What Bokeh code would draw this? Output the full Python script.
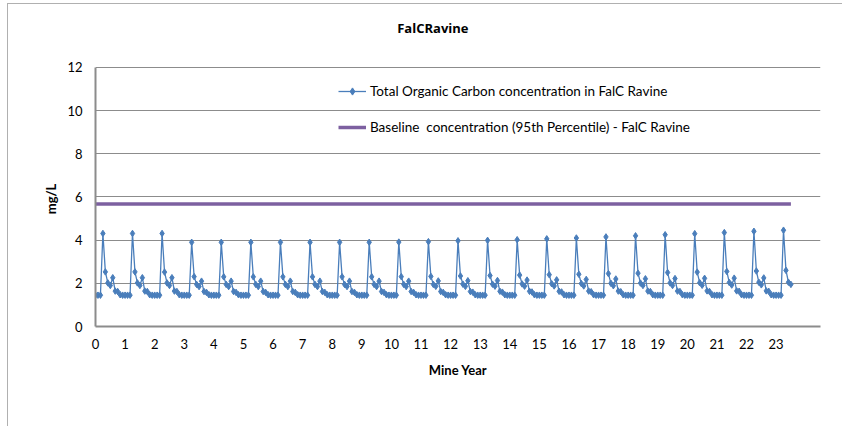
from bokeh.plotting import figure
from bokeh.models import Range1d, FixedTicker, Legend, LegendItem
from bokeh.core.properties import value
from bokeh.embed import file_html
from bokeh.resources import INLINE

# ---- data (monthly readings, 12 per mine year) ----
toc_year_00 = [1.45, 1.45, 1.45, 4.31, 2.53, 2.02, 1.90, 2.26, 1.64, 1.62, 1.47, 1.45]
toc_year_01 = [1.45, 1.45, 1.45, 4.31, 2.53, 2.02, 1.90, 2.26, 1.64, 1.62, 1.47, 1.45]
toc_year_02 = [1.45, 1.45, 1.45, 4.31, 2.52, 2.02, 1.90, 2.26, 1.64, 1.62, 1.47, 1.45]
toc_year_03 = [1.45, 1.45, 1.45, 3.90, 2.31, 1.95, 1.85, 2.10, 1.62, 1.58, 1.47, 1.45]
toc_year_04 = [1.45, 1.45, 1.45, 3.90, 2.30, 1.95, 1.85, 2.10, 1.62, 1.58, 1.47, 1.45]
toc_year_05 = [1.45, 1.45, 1.45, 3.90, 2.30, 1.95, 1.85, 2.10, 1.62, 1.58, 1.47, 1.45]
toc_year_06 = [1.45, 1.45, 1.45, 3.90, 2.30, 1.95, 1.85, 2.10, 1.62, 1.58, 1.47, 1.45]
toc_year_07 = [1.45, 1.45, 1.45, 3.90, 2.30, 1.95, 1.85, 2.10, 1.62, 1.58, 1.47, 1.45]
toc_year_08 = [1.45, 1.45, 1.45, 3.90, 2.30, 1.95, 1.85, 2.10, 1.62, 1.58, 1.47, 1.45]
toc_year_09 = [1.45, 1.45, 1.45, 3.90, 2.30, 1.95, 1.85, 2.10, 1.62, 1.58, 1.47, 1.45]
toc_year_10 = [1.45, 1.45, 1.45, 3.91, 2.31, 1.95, 1.85, 2.10, 1.62, 1.58, 1.47, 1.45]
toc_year_11 = [1.45, 1.45, 1.45, 3.93, 2.32, 1.95, 1.86, 2.11, 1.62, 1.58, 1.47, 1.45]
toc_year_12 = [1.45, 1.45, 1.45, 3.97, 2.34, 1.96, 1.86, 2.12, 1.62, 1.59, 1.47, 1.45]
toc_year_13 = [1.45, 1.45, 1.45, 3.99, 2.36, 1.96, 1.87, 2.13, 1.63, 1.59, 1.47, 1.45]
toc_year_14 = [1.45, 1.45, 1.45, 4.02, 2.38, 1.97, 1.87, 2.15, 1.63, 1.60, 1.47, 1.45]
toc_year_15 = [1.45, 1.45, 1.45, 4.06, 2.40, 1.98, 1.88, 2.16, 1.63, 1.60, 1.47, 1.45]
toc_year_16 = [1.45, 1.45, 1.45, 4.10, 2.42, 1.99, 1.88, 2.18, 1.64, 1.61, 1.47, 1.45]
toc_year_17 = [1.45, 1.45, 1.45, 4.15, 2.45, 2.00, 1.89, 2.20, 1.64, 1.61, 1.47, 1.45]
toc_year_18 = [1.45, 1.45, 1.45, 4.20, 2.47, 2.01, 1.90, 2.21, 1.64, 1.62, 1.47, 1.45]
toc_year_19 = [1.45, 1.45, 1.45, 4.25, 2.50, 2.02, 1.90, 2.22, 1.64, 1.62, 1.47, 1.45]
toc_year_20 = [1.45, 1.45, 1.45, 4.30, 2.52, 2.03, 1.91, 2.23, 1.65, 1.62, 1.47, 1.45]
toc_year_21 = [1.45, 1.45, 1.45, 4.35, 2.55, 2.04, 1.92, 2.24, 1.65, 1.63, 1.47, 1.45]
toc_year_22 = [1.45, 1.45, 1.45, 4.41, 2.57, 2.05, 1.93, 2.25, 1.65, 1.63, 1.47, 1.45]
toc_year_23 = [1.45, 1.45, 1.45, 4.46, 2.60, 2.05, 1.95]

toc_years = [toc_year_00, toc_year_01, toc_year_02, toc_year_03, toc_year_04,
             toc_year_05, toc_year_06, toc_year_07, toc_year_08, toc_year_09,
             toc_year_10, toc_year_11, toc_year_12, toc_year_13, toc_year_14,
             toc_year_15, toc_year_16, toc_year_17, toc_year_18, toc_year_19,
             toc_year_20, toc_year_21, toc_year_22, toc_year_23]

baseline_x = [0.0, 23.5]
baseline_y = [5.67, 5.67]

x_ticks = list(range(0, 24))
y_ticks = [0, 2, 4, 6, 8, 10, 12]

title_text = "FalCRavine"
series_label = "Total Organic Carbon concentration in FalC Ravine"
baseline_label = "Baseline  concentration (95th Percentile) - FalC Ravine"
x_title = "Mine Year"
y_title = "mg/L"

# ---- build series ----
toc_x, toc_y = [], []
for yr, row in enumerate(toc_years):
    for m, v in enumerate(row):
        toc_x.append(yr + m / 12.0)
        toc_y.append(v)

FONT = "Lato"
GRID = "#8c8c8c"
BLUE = "#4a7ebb"
PURPLE = "#7d60a0"

# the frame extends above the 0-12 axis so that the title sits inside it
p = figure(width=835, height=423, output_backend="svg", toolbar_location=None,
           x_range=Range1d(0, 24.5), y_range=Range1d(0, 14.73),
           min_border_left=87, min_border_right=23, min_border_top=4,
           min_border_bottom=101)
p.outline_line_color = None
p.background_fill_color = "white"
p.border_fill_color = "white"

# axes
for ax in (p.xaxis[0], p.yaxis[0]):
    ax.axis_line_color = GRID
    ax.axis_line_width = 2
    ax.major_tick_line_color = None
    ax.minor_tick_line_color = None
    ax.major_tick_out = 0
    ax.major_tick_in = 0
    ax.major_label_text_font = FONT
    ax.major_label_text_font_size = "13px"
    ax.major_label_text_color = "#000000"
    ax.axis_label_text_font = FONT
    ax.axis_label_text_font_size = "13px"
    ax.axis_label_text_font_style = "bold"
    ax.axis_label_text_color = "#000000"

p.xaxis.ticker = FixedTicker(ticks=x_ticks)
p.yaxis.ticker = FixedTicker(ticks=y_ticks)
p.yaxis.bounds = (0, 12)
p.xaxis.axis_label = x_title
# non-breaking spaces after the label shift it down to the middle of 0-12
p.yaxis.axis_label = y_title + "\u00a0" * 20
p.xaxis.major_label_standoff = 12
p.xaxis.axis_label_standoff = 10
p.yaxis.major_label_standoff = 13
p.yaxis.axis_label_standoff = 5

p.xgrid.grid_line_color = None
p.ygrid.grid_line_color = GRID
p.ygrid.grid_line_width = 1

# glyphs
r_line = p.line(toc_x, toc_y, line_color=BLUE, line_width=1.3)
r_pts = p.scatter(toc_x, toc_y, marker="diamond", size=6.5, fill_color=BLUE,
                  line_color=BLUE)
r_base = p.line(baseline_x, baseline_y, line_color=PURPLE, line_width=3.5)

# chart title
p.text(x=[11.4], y=[13.82], text=[title_text], text_font=value("Open Sans"),
       text_font_size="13px", text_font_style="bold", text_color="#000000",
       text_align="center", text_baseline="middle")

legend = Legend(items=[LegendItem(label=series_label, renderers=[r_line, r_pts]),
                       LegendItem(label=baseline_label, renderers=[r_base])],
                location=(243, 190), orientation="vertical",
                background_fill_alpha=0, border_line_color=None,
                padding=0, margin=0, spacing=18,
                glyph_width=28, glyph_height=18, label_height=18,
                label_standoff=4,
                label_text_font=FONT, label_text_font_size="13.5px",
                label_text_color="#000000")
p.add_layout(legend)

p.styles = {"border-left": "1px solid #b0b0b0", "border-top": "1px solid #b0b0b0",
            "margin-left": "7px", "margin-top": "3px"}

open("out.html", "w").write(file_html(p, INLINE))
